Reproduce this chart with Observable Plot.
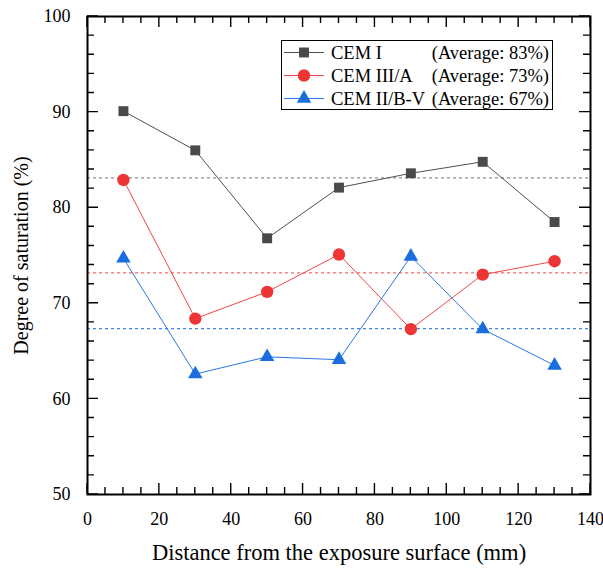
<!DOCTYPE html>
<html>
<head>
<meta charset="utf-8">
<script src="https://cdn.jsdelivr.net/npm/d3@7"></script>
<script src="https://cdn.jsdelivr.net/npm/@observablehq/plot@0.6"></script>
<style>
  html, body { margin: 0; padding: 0; background: #fff; }
  #chart { width: 603px; height: 571px; }
</style>
</head>
<body>
<div id="chart"></div>
<script>
// ---- data ----
const distances = [10, 30, 50, 70, 90, 110, 130];
const cemI      = [90.1, 86.0, 76.8, 82.1, 83.6, 84.8, 78.5];
const cemIIIA   = [82.9, 68.4, 71.2, 75.1, 67.3, 73.0, 74.4];
const cemIIBV   = [74.7, 62.6, 64.4, 64.1, 74.9, 67.3, 63.5];
const seriesNames = ["CEM I", "CEM III/A", "CEM II/B-V"];
const xMajorTicks = [0, 20, 40, 60, 80, 100, 120, 140];
const yMajorTicks = [50, 60, 70, 80, 90, 100];

// ---- styles ----
const lineColors = ["#505050", "#f04848", "#2a78e0"];
const dotColors  = ["#4a4a4a", "#ee3535", "#1a6ee0"];
const avgColors  = ["#909090", "#f46a6a", "#3f86e6"];
const symbols    = ["square", "circle", "triangle"];
const radii      = [5.6, 6.2, 5.4];
const font = "'Liberation Serif', 'Times New Roman', serif";

const seriesValues = [cemI, cemIIIA, cemIIBV];
const rows = [];
seriesValues.forEach((vals, i) => vals.forEach((v, j) => rows.push({s: seriesNames[i], i, x: distances[j], y: v})));
const avgs = seriesValues.map((vals, i) => ({s: seriesNames[i], i, v: d3.mean(vals)}));

const xMinor = d3.range(0, 141, 5).filter(t => !xMajorTicks.includes(t));
const yMinor = d3.range(50, 101, 2).filter(t => !yMajorTicks.includes(t));

const marks = [
  Plot.ruleY(avgs, {y: "v", stroke: d => avgColors[d.i], strokeWidth: 1.3, strokeDasharray: "3,3"}),
];
seriesNames.forEach((name, i) => {
  const data = rows.filter(r => r.i === i);
  marks.push(Plot.line(data, {x: "x", y: "y", stroke: lineColors[i], strokeWidth: 1}));
  marks.push(Plot.dot(data, {x: "x", y: "y", symbol: () => symbols[i], fill: dotColors[i], stroke: "none", r: radii[i]}));
});
marks.push(Plot.axisX({anchor: "bottom", ticks: xMajorTicks, tickSize: 0, tickPadding: 18, fontSize: 18,
  label: "Distance from the exposure surface (mm)", labelAnchor: "center", labelArrow: "none", labelOffset: 65}));
marks.push(Plot.axisY({anchor: "left", ticks: yMajorTicks, tickSize: 0, tickPadding: 17, fontSize: 18,
  label: "Degree of saturation (%)", labelAnchor: "center", labelArrow: "none", labelOffset: 74}));
marks.push(Plot.frame({stroke: "#000", strokeWidth: 2}));

const chart = Plot.plot({
  width: 603, height: 571,
  marginLeft: 87, marginRight: 13, marginTop: 16, marginBottom: 77,
  x: {domain: [0, 140]},
  y: {domain: [50, 100]},
  style: {fontFamily: font, fontSize: "18px", color: "#000", background: "#fff"},
  marks
});
document.getElementById("chart").appendChild(chart);

// axis title font sizes
d3.select(chart).selectAll("g[aria-label='x-axis label'] text").style("font-size", "22.5px");
d3.select(chart).selectAll("g[aria-label='y-axis label'] text").style("font-size", "20px");

// ---- inward ticks on all four sides, placed with Plot's own scales ----
const svg = d3.select(chart);
const sx = chart.scale("x"), sy = chart.scale("y");
const [x0, x1] = sx.range, [y0, y1] = sy.range; // y0 bottom, y1 top
const tg = svg.append("g").attr("stroke", "#000").attr("stroke-width", 1.4).attr("fill", "none");
const tickPath = [];
for (const [vals, len] of [[xMajorTicks, 11], [xMinor, 7]]) {
  for (const v of vals) {
    const px = sx.apply(v);
    tickPath.push(`M${px},${y0}v${-len}`, `M${px},${y1}v${len}`);
  }
}
for (const [vals, len] of [[yMajorTicks, 11], [yMinor, 7]]) {
  for (const v of vals) {
    const py = sy.apply(v);
    tickPath.push(`M${x0},${py}h${len}`, `M${x1},${py}h${-len}`);
  }
}
tg.append("path").attr("d", tickPath.join(""));

// ---- legend ----
const lg = svg.append("g").attr("font-family", font).attr("font-size", 18.5).attr("text-anchor", "start");
lg.append("rect").attr("x", 281.5).attr("y", 40.5).attr("width", 271).attr("height", 69)
  .attr("fill", "#fff").attr("stroke", "#000").attr("stroke-width", 1);
const symMap = {square: d3.symbolSquare, circle: d3.symbolCircle, triangle: d3.symbolTriangle};
const rowY = [52.5, 75.5, 98.5];
seriesNames.forEach((name, i) => {
  const y = rowY[i];
  lg.append("line").attr("x1", 284).attr("x2", 324).attr("y1", y).attr("y2", y)
    .attr("stroke", lineColors[i]).attr("stroke-width", 1);
  lg.append("path").attr("transform", `translate(304,${y})`)
    .attr("d", d3.symbol(symMap[symbols[i]], Math.PI * radii[i] * radii[i])())
    .attr("fill", dotColors[i]);
  lg.append("text").attr("x", 331).attr("y", y).attr("dy", "0.35em").text(name);
  lg.append("text").attr("x", 549).attr("y", y).attr("dy", "0.35em").attr("text-anchor", "end")
    .text(`(Average: ${Math.round(avgs[i].v)}%)`);
});
</script>
</body>
</html>
